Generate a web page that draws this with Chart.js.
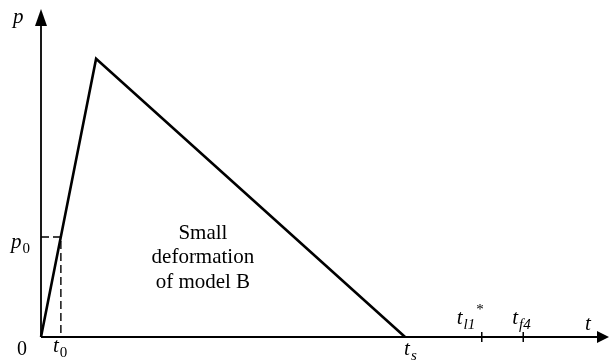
<!DOCTYPE html>
<html>
<head>
<meta charset="utf-8">
<title>Load history p(t)</title>
<script src="https://cdn.jsdelivr.net/npm/chart.js@4/dist/chart.umd.min.js"></script>
<style>
  html, body { margin: 0; padding: 0; background: #fff; }
  #wrap { width: 609px; height: 362px; }
</style>
</head>
<body>
<div id="wrap"><canvas id="loadChart" width="609" height="362"></canvas></div>
<script>
// load curve: rises to the peak, then falls back to zero at t_s
var loadTimes = [0, 0.97, 6.41];
var loadValues = [0, 8.48, 0];

// reference point on the rising branch
var t0 = 0.35;
var p0 = 3.05;

// marks on the time axis
var tickTimes = [7.76, 8.49];
var tickNames = [['l1', '*'], ['f4', '']];

var tsTime = loadTimes[2];
var axisMax = { x: 10, y: 10 };

var serif = '"Liberation Serif", "Times New Roman", serif';

function toPoints(xs, ys) {
    var pts = [];
    for (var i = 0; i < xs.length; i++) pts.push({ x: xs[i], y: ys[i] });
    return pts;
}

// italic letter with a subscript (and optional superscript)
function subLabel(ctx, main, sub, x, y, sup) {
    ctx.font = 'italic 21px ' + serif;
    ctx.textAlign = 'left';
    ctx.textBaseline = 'alphabetic';
    ctx.fillText(main, x, y);
    var w = ctx.measureText(main).width + 1;
    if (sub) {
        ctx.font = (/^[0-9]$/.test(sub) ? '' : 'italic ') + '15px ' + serif;
        ctx.fillText(sub, x + w, y + 5);
        w += ctx.measureText(sub).width;
    }
    if (sup) {
        ctx.font = '15px ' + serif;
        ctx.fillText(sup, x + w + 1, y - 10);
    }
}

var axesPlugin = {
    id: 'axesPlugin',
    afterDatasetsDraw: function (chart) {
        var ctx = chart.ctx;
        var xs = chart.scales.x, ys = chart.scales.y;
        var x0 = xs.getPixelForValue(0), y0 = ys.getPixelForValue(0);
        var xEnd = xs.getPixelForValue(axisMax.x), yEnd = ys.getPixelForValue(axisMax.y);

        ctx.save();
        ctx.strokeStyle = '#000';
        ctx.fillStyle = '#000';
        ctx.lineWidth = 1.8;

        // axis lines
        ctx.beginPath();
        ctx.moveTo(x0, y0);
        ctx.lineTo(x0, yEnd + 14);
        ctx.moveTo(x0, y0);
        ctx.lineTo(xEnd - 10, y0);
        ctx.stroke();

        // arrow heads
        ctx.beginPath();
        ctx.moveTo(x0, yEnd);
        ctx.lineTo(x0 - 6, yEnd + 17);
        ctx.lineTo(x0 + 6, yEnd + 17);
        ctx.closePath();
        ctx.fill();
        ctx.beginPath();
        ctx.moveTo(xEnd, y0);
        ctx.lineTo(xEnd - 12, y0 - 6);
        ctx.lineTo(xEnd - 12, y0 + 6);
        ctx.closePath();
        ctx.fill();

        // tick marks
        ctx.lineWidth = 1.5;
        tickTimes.forEach(function (t) {
            var px = xs.getPixelForValue(t);
            ctx.beginPath();
            ctx.moveTo(px, y0 - 5);
            ctx.lineTo(px, y0 + 5);
            ctx.stroke();
        });

        // axis labels
        subLabel(ctx, 'p', '', x0 - 28, yEnd + 14);
        subLabel(ctx, 't', '', xEnd - 24, y0 - 7);
        subLabel(ctx, 'p', '0', x0 - 30, ys.getPixelForValue(p0) + 11);
        subLabel(ctx, 't', '0', xs.getPixelForValue(t0) - 8, y0 + 15);
        subLabel(ctx, 't', 's', xs.getPixelForValue(tsTime) - 1, y0 + 18);
        subLabel(ctx, 't', tickNames[0][0], xs.getPixelForValue(tickTimes[0]) - 25, y0 - 13, tickNames[0][1]);
        subLabel(ctx, 't', tickNames[1][0], xs.getPixelForValue(tickTimes[1]) - 11, y0 - 13, tickNames[1][1]);

        ctx.font = '20px ' + serif;
        ctx.fillText('0', x0 - 24, y0 + 18);

        // region note
        ctx.textAlign = 'center';
        ctx.font = '21px ' + serif;
        var nx = xs.getPixelForValue(2.85), ny = ys.getPixelForValue(3.0);
        ['Small', 'deformation', 'of model B'].forEach(function (line, i) {
            ctx.fillText(line, nx, ny + i * 24.5);
        });
        ctx.restore();
    }
};

var ctx = document.getElementById('loadChart').getContext('2d');

var loadChart = new Chart(ctx, {
    type: 'scatter',
    data: {
        datasets: [{
            label: 'p(t)',
            data: toPoints(loadTimes, loadValues),
            showLine: true,
            borderColor: '#000',
            borderWidth: 2.6,
            pointRadius: 0,
            borderJoinStyle: 'miter',
            clip: false
        }, {
            label: 'p0 guide',
            data: toPoints([0, t0, t0], [p0, p0, 0]),
            showLine: true,
            borderColor: '#000',
            borderWidth: 1.4,
            borderDash: [8, 4],
            pointRadius: 0,
            clip: false
        }]
    },
    options: {
        responsive: false,
        animation: false,
        layout: { padding: { left: 41, right: 0, top: 9, bottom: 25 } },
        plugins: { legend: { display: false }, tooltip: { enabled: false } },
        scales: {
            x: { type: 'linear', display: false, min: 0, max: axisMax.x },
            y: { type: 'linear', display: false, min: 0, max: axisMax.y }
        }
    },
    plugins: [axesPlugin]
});
</script>
</body>
</html>
